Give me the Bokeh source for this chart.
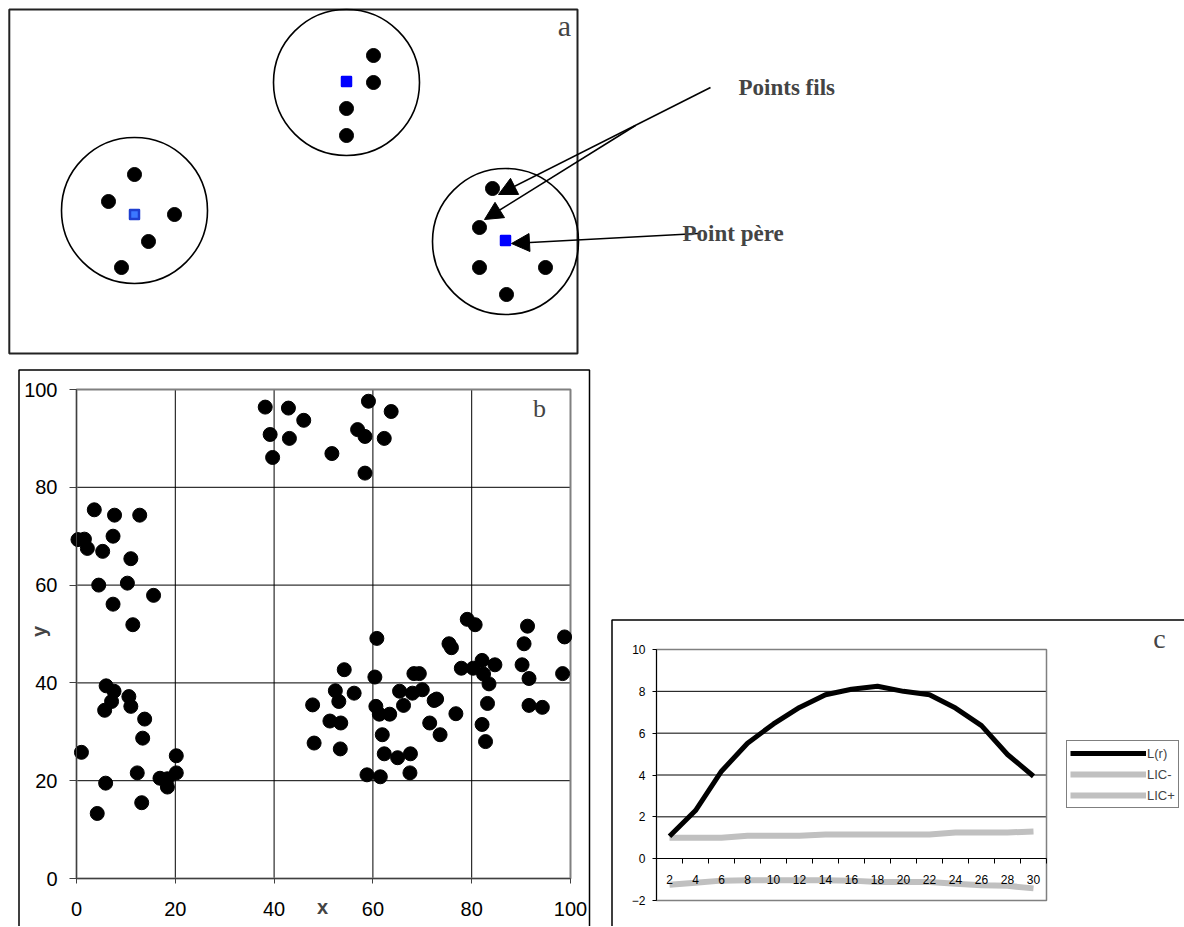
import math
from bokeh.plotting import figure
from bokeh.models import (Range1d, Label, Arrow, NormalHead, LinearAxis, FixedTicker,
                          Legend, LegendItem, ColumnDataSource)
from bokeh.embed import file_html
from bokeh.resources import INLINE

# ---------------- Panel a : schematic (page-pixel coordinates) ----------------
circle_x = [134, 346, 505]
circle_y = [210, 82, 241]
circle_d = 146
parent_x = [134, 346, 505]
parent_y = [214, 81, 240]
parent_fill = ["#3c78ff", "#0000ff", "#0000ff"]
parent_line = ["#1f3fd0", "#0000ff", "#0000ff"]
child_x = [134, 108, 174, 148, 121, 373, 373, 346, 346, 492, 479, 479, 545, 506]
child_y = [174, 201, 214, 241, 267, 55, 82, 108, 135, 188, 227, 267, 267, 294]
arrow_x0 = [710, 635, 698]
arrow_y0 = [87, 125, 233]
arrow_x1 = [498, 484, 511]
arrow_y1 = [194, 219, 243]
note_text = ["Points fils", "Point père"]
note_x = [738, 682]
note_y = [87, 233]

# ---------------- Panel b : point pattern ----------------
top_x = [38.2, 42.9, 39.2, 43.1, 39.7, 46.0, 51.7, 59.1, 63.7, 56.9, 58.4, 62.3, 58.4]
top_y = [96.4, 96.2, 90.8, 90.0, 86.1, 93.7, 86.9, 97.6, 95.5, 91.8, 90.4, 90.0, 82.9]
ul_x = [3.6, 7.7, 12.8, 0.3, 1.6, 2.2, 7.4, 5.3, 11.0, 4.5, 10.3, 15.6, 7.4, 11.4]
ul_y = [75.4, 74.3, 74.3, 69.3, 69.4, 67.5, 70.0, 66.9, 65.4, 60.0, 60.4, 57.9, 56.1, 51.9]
ll_x = [6.0, 7.6, 7.1, 5.7, 10.6, 11.0, 13.8, 13.4, 1.0, 20.2, 12.3, 20.2, 16.9, 18.4, 18.4, 5.9, 13.2, 4.2]
ll_y = [39.4, 38.3, 36.2, 34.4, 37.2, 35.2, 32.6, 28.7, 25.8, 25.1, 21.6, 21.6, 20.5, 20.4, 18.7, 19.5, 15.5, 13.3]
rc_x = [60.8, 79.1, 80.7, 75.4, 75.9, 91.3, 90.6, 98.8, 77.9, 80.3, 82.1, 84.7, 90.2, 82.4, 83.5,
        91.6, 98.4, 83.2, 91.6, 94.3, 82.1, 82.8, 76.8, 54.2, 60.4, 52.4, 53.1, 56.2, 47.8, 51.3,
        53.5, 48.1, 53.4, 60.6, 61.3, 63.4, 61.9, 62.3, 65.0, 67.6, 67.5, 58.8, 61.5, 65.4, 66.2,
        68.0, 70.0, 68.3, 69.4, 72.4, 72.9, 71.5, 73.6]
rc_y = [49.1, 53.0, 51.9, 48.0, 47.2, 51.6, 48.0, 49.4, 43.0, 43.0, 44.6, 43.7, 43.7, 41.8, 39.8,
        40.9, 41.9, 35.8, 35.4, 35.0, 31.5, 28.0, 33.7, 42.7, 41.2, 38.4, 36.2, 37.9, 35.5, 32.2,
        31.8, 27.7, 26.5, 35.2, 33.6, 33.6, 29.4, 25.5, 24.7, 25.5, 21.6, 21.2, 20.8, 38.3, 35.4,
        37.9, 38.6, 41.9, 41.9, 36.4, 36.7, 31.8, 29.4]
b_ticks = [0, 20, 40, 60, 80, 100]
b_grid = [20, 40, 60, 80]

# ---------------- Panel c : L(r) function ----------------
r_vals = [2, 4, 6, 8, 10, 12, 14, 16, 18, 20, 22, 24, 26, 28, 30]
L_vals = [1.07, 2.3, 4.18, 5.52, 6.44, 7.23, 7.84, 8.1, 8.24, 8.0, 7.84, 7.2, 6.36, 4.98, 3.94]
lic_minus = [-1.25, -1.15, -1.05, -1.03, -1.03, -1.03, -1.03, -1.05, -1.12, -1.12, -1.12, -1.2, -1.27, -1.3, -1.42]
lic_plus = [1.0, 1.0, 1.0, 1.1, 1.1, 1.1, 1.15, 1.15, 1.15, 1.15, 1.15, 1.25, 1.25, 1.25, 1.3]
c_yticks = [-2, 0, 2, 4, 6, 8, 10]
c_grid = [2, 4, 6, 8]
c_boundaries = [1, 3, 5, 7, 9, 11, 13, 15, 17, 19, 21, 23, 25, 27, 29, 31]

SANS = "Liberation Sans"
SERIF = "Liberation Serif"

# ---------------- page geometry (pixels) ----------------
W, H = 1184, 926
B_L, B_R, B_T, B_B = 76, 570, 389, 878      # panel b plot area
C_L, C_R, C_T, C_B = 656, 1046, 649, 900    # panel c plot area


def span_range(d0, d1, p0, p1, lo, hi):
    """Range whose value d0 sits at pixel p0 and d1 at pixel p1; start at pixel lo, end at hi."""
    k = (d1 - d0) / (p1 - p0)
    return Range1d(d0 + (lo - p0) * k, d0 + (hi - p0) * k)


p = figure(width=W, height=H, x_range=Range1d(0, W), y_range=Range1d(H, 0),
           x_axis_type=None, y_axis_type=None, output_backend="svg", toolbar_location=None,
           min_border=0, outline_line_color=None)
p.extra_x_ranges = {"bx": span_range(0, 100, B_L, B_R, 0, W),
                    "cx": span_range(1, 31, C_L, C_R, 0, W)}
p.extra_y_ranges = {"by": span_range(0, 100, B_B, B_T, H, 0),
                    "cy": span_range(-2, 10, C_B, C_T, H, 0)}

# ======================= Panel a =======================
p.quad(left=[8.8], right=[577], top=[9], bottom=[353], fill_color=None,
       line_color="#222222", line_width=2)
p.ellipse(x=circle_x, y=circle_y, width=circle_d, height=circle_d, fill_color=None,
          line_color="black", line_width=1.6)
p.scatter(x=child_x, y=child_y, size=14, color="black")
p.scatter(x=parent_x, y=parent_y, marker="square", size=9, fill_color=parent_fill,
          line_color=parent_line, line_width=2.5, line_join="round")
asrc = ColumnDataSource(dict(x0=arrow_x0, y0=arrow_y0, x1=arrow_x1, y1=arrow_y1))
p.add_layout(Arrow(end=NormalHead(size=18, fill_color="black", line_color="black"),
                   x_start="x0", y_start="y0", x_end="x1", y_end="y1", source=asrc,
                   line_color="black", line_width=1.6))
for t, x, y in zip(note_text, note_x, note_y):
    p.add_layout(Label(x=x, y=y, text=t, text_font=SERIF, text_font_size="23px",
                       text_font_style="bold", text_align="left", text_baseline="middle"))
p.add_layout(Label(x=564, y=25, text="a", text_font=SERIF, text_font_size="30px",
                   text_align="center", text_baseline="middle"))

# ======================= Panel b =======================
p.quad(left=[18.5], right=[589], top=[369.5], bottom=[H + 20], fill_color=None,
       line_color="black", line_width=1.5)
p.segment(x0=b_grid, y0=[0] * 4, x1=b_grid, y1=[100] * 4, line_color="black", line_width=1,
          x_range_name="bx", y_range_name="by")
p.segment(x0=[0] * 4, y0=b_grid, x1=[100] * 4, y1=b_grid, line_color="black", line_width=1,
          x_range_name="bx", y_range_name="by")
p.quad(left=[0], right=[100], bottom=[0], top=[100], fill_color=None, line_color="#808080",
       line_width=2, x_range_name="bx", y_range_name="by")

xb = LinearAxis(x_range_name="bx", y_range_name="by", fixed_location=0, bounds=(0, 100),
                ticker=FixedTicker(ticks=b_ticks), major_tick_out=5, major_label_standoff=18)
yb = LinearAxis(x_range_name="bx", y_range_name="by", fixed_location=0, bounds=(0, 100),
                ticker=FixedTicker(ticks=b_ticks), major_tick_out=7, major_label_standoff=12)
for ax in (xb, yb):
    ax.major_label_text_font = SANS
    ax.major_label_text_font_size = "20px"
    ax.major_label_text_color = "black"
    ax.major_tick_in = 0
    ax.minor_tick_line_color = None
    ax.axis_line_color = "#404040"
    ax.major_tick_line_color = "#404040"
p.add_layout(xb, "below")
p.add_layout(yb, "left")

pts_x = top_x + ul_x + ll_x + rc_x
pts_y = top_y + ul_y + ll_y + rc_y
p.scatter(x=pts_x, y=pts_y, size=14, color="black", x_range_name="bx", y_range_name="by")

p.add_layout(Label(x=539, y=408, text="b", text_font=SERIF, text_font_size="26px",
                   text_align="center", text_baseline="middle"))
p.add_layout(Label(x=322, y=906, text="x", text_font=SANS, text_font_size="20px",
                   text_font_style="bold", text_align="center", text_baseline="middle"))
p.add_layout(Label(x=38, y=631, text="y", text_font=SANS, text_font_size="20px",
                   text_font_style="bold", text_align="center", text_baseline="middle",
                   angle=math.pi / 2))

# ======================= Panel c =======================
p.quad(left=[611.5], right=[W + 20], top=[619.5], bottom=[H + 20], fill_color=None,
       line_color="black", line_width=1.5)
p.segment(x0=[1] * 4, y0=c_grid, x1=[31] * 4, y1=c_grid, line_color="black", line_width=1,
          x_range_name="cx", y_range_name="cy")
p.quad(left=[1], right=[31], bottom=[-2], top=[10], fill_color=None, line_color="#808080",
       line_width=1.5, x_range_name="cx", y_range_name="cy")

yc = LinearAxis(x_range_name="cx", y_range_name="cy", fixed_location=1, bounds=(-2, 10),
                ticker=FixedTicker(ticks=c_yticks), major_label_text_font=SANS,
                major_label_text_font_size="12px", major_label_text_color="black",
                major_tick_in=0, major_tick_out=4, major_label_standoff=7,
                minor_tick_line_color=None, axis_line_color="black")
# category axis: labels at the category centres, tick marks at the category boundaries
xc = LinearAxis(x_range_name="cx", y_range_name="cy", fixed_location=0, bounds=(1, 31),
                ticker=FixedTicker(ticks=r_vals, minor_ticks=c_boundaries),
                major_label_text_font=SANS, major_label_text_font_size="12px",
                major_label_text_color="black", major_tick_in=0, major_tick_out=0,
                major_label_standoff=11, major_tick_line_color=None,
                minor_tick_in=0, minor_tick_out=5, minor_tick_line_color="black",
                axis_line_color="black")
p.add_layout(yc, "left")
p.add_layout(xc, "below")

r_minus = p.line(r_vals, lic_minus, line_color="#c0c0c0", line_width=6, line_join="round",
                 x_range_name="cx", y_range_name="cy")
r_plus = p.line(r_vals, lic_plus, line_color="#c0c0c0", line_width=6, line_join="round",
                x_range_name="cx", y_range_name="cy")
r_L = p.line(r_vals, L_vals, line_color="black", line_width=5, line_join="round",
             x_range_name="cx", y_range_name="cy")

leg = Legend(items=[LegendItem(label="L(r)", renderers=[r_L]),
                    LegendItem(label="LIC-", renderers=[r_minus]),
                    LegendItem(label="LIC+", renderers=[r_plus])],
             location=(1066, H - 808), glyph_width=76, glyph_height=18, label_height=18,
             label_width=20, spacing=3, padding=3, label_standoff=1, margin=0,
             border_line_color="black", border_line_width=1,
             label_text_font=SANS, label_text_font_size="13px",
             background_fill_color="white", background_fill_alpha=1)
p.add_layout(leg)

p.add_layout(Label(x=1159, y=638, text="c", text_font=SERIF, text_font_size="28px",
                   text_align="center", text_baseline="middle"))

open("out.html", "w").write(file_html(p, INLINE))
